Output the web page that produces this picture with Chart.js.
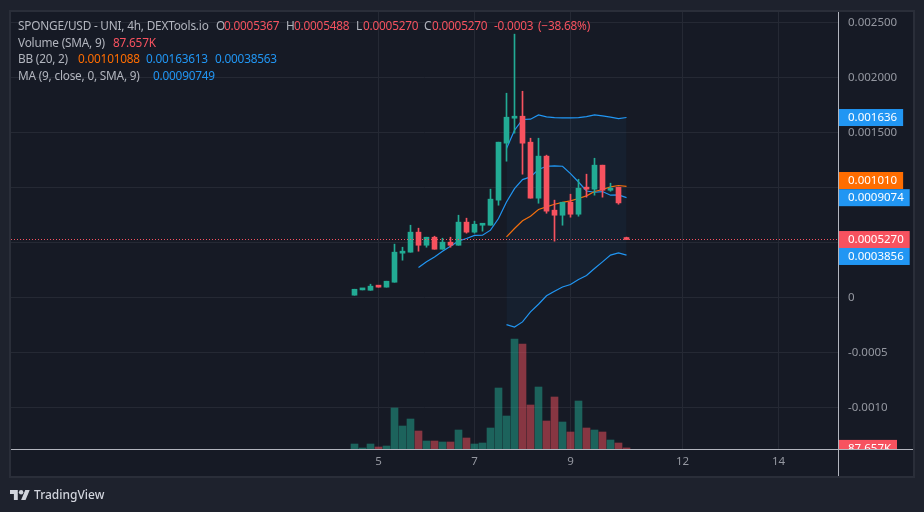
<!DOCTYPE html>
<html>
<head>
<meta charset="utf-8">
<title>SPONGE/USD</title>
<script src="https://cdn.jsdelivr.net/npm/chart.js@4"></script>
<style>
  html, body { margin: 0; padding: 0; width: 924px; height: 512px; overflow: hidden; background: #1e222d; }
  body { position: relative; font-family: "Noto Sans", sans-serif; }
  #panel { position: absolute; left: 9px; top: 10px; width: 902px; height: 464px; border: 2px solid #2a2e39; background: #161a25; }
  #priceChart { position: absolute; left: 0; top: 0; }
  .row { position: absolute; left: 18px; font-size: 11.8px; letter-spacing: -0.2px; line-height: 17px; color: #b2b5be; white-space: nowrap; }
  .row span { position: absolute; top: 0; }
  .red { color: #f7525f; }
  .orange { color: #ff6d00; }
  .blue { color: #2196f3; }
  #brand { position: absolute; left: 10px; top: 486px; display: flex; align-items: center; color: #d1d4dc; font-size: 12px; font-weight: 500; }
  #brand svg { margin-right: 4px; }
</style>
</head>
<body>
<div id="panel"></div>
<canvas id="priceChart" width="924" height="512"></canvas>

<div class="row" style="top:17px">SPONGE/USD - UNI, 4h, DEXTools.io
  <span style="left:198px">O</span><span class="red" style="left:206px">0.0005367</span>
  <span style="left:268px">H</span><span class="red" style="left:276px">0.0005488</span>
  <span style="left:338px">L</span><span class="red" style="left:345px">0.0005270</span>
  <span style="left:406px">C</span><span class="red" style="left:414px">0.0005270</span>
  <span class="red" style="left:476px">-0.0003</span>
  <span class="red" style="left:520px">(−38.68%)</span>
</div>
<div class="row" style="top:34px">Volume (SMA, 9)<span class="red" style="left:95px">87.657K</span></div>
<div class="row" style="top:50px">BB (20, 2)
  <span class="orange" style="left:60px">0.00101088</span>
  <span class="blue" style="left:128px">0.00163613</span>
  <span class="blue" style="left:197px">0.00038563</span>
</div>
<div class="row" style="top:67px">MA (9, close, 0, SMA, 9)<span class="blue" style="left:135px">0.00090749</span></div>

<div id="brand">
  <svg width="20" height="12" viewBox="0 3 36 20" fill="#d1d4dc"><path d="M14 22H7V11H0V4h14v18zM28 22h-8l7.5-18h8L28 22z"></path><circle cx="20" cy="8" r="4"></circle></svg>
  TradingView
</div>

<script>
// 4h candles, oldest first
const opens  = [0.000021, 0.000069, 0.000066, 0.000103, 0.000094, 0.000139, 0.000403, 0.000412, 0.000594, 0.000475, 0.000548, 0.000439, 0.000503, 0.000475, 0.000685, 0.000594, 0.000657, 0.000657, 0.000885, 0.001403, 0.001630, 0.001648, 0.001412, 0.000903, 0.001285, 0.000794, 0.000748, 0.000866, 0.000757, 0.000994, 0.000985, 0.001203, 0.000975, 0.001003, 0.0005367];
const highs  = [0.000075, 0.000075, 0.000121, 0.000103, 0.000148, 0.000485, 0.000457, 0.000657, 0.000630, 0.000548, 0.000557, 0.000539, 0.000548, 0.000748, 0.000721, 0.000694, 0.000666, 0.000985, 0.001412, 0.001857, 0.002394, 0.001875, 0.001448, 0.001448, 0.001294, 0.000885, 0.000866, 0.000939, 0.001075, 0.001121, 0.001266, 0.001203, 0.001039, 0.001003, 0.0005488];
const lows   = [0.000021, 0.000069, 0.000066, 0.000094, 0.000094, 0.000139, 0.000339, 0.000412, 0.000421, 0.000457, 0.000439, 0.000439, 0.000457, 0.000475, 0.000585, 0.000585, 0.000603, 0.000657, 0.000839, 0.001239, 0.001494, 0.001121, 0.000903, 0.000857, 0.000766, 0.000512, 0.000657, 0.000730, 0.000739, 0.000912, 0.000930, 0.000912, 0.000966, 0.000848, 0.000527];
const closes = [0.000075, 0.000075, 0.000103, 0.000094, 0.000148, 0.000412, 0.000421, 0.000594, 0.000475, 0.000548, 0.000439, 0.000503, 0.000475, 0.000685, 0.000594, 0.000666, 0.000666, 0.000894, 0.001412, 0.001639, 0.001648, 0.001403, 0.000903, 0.001285, 0.000785, 0.000748, 0.000866, 0.000757, 0.000994, 0.000985, 0.001203, 0.000975, 0.000994, 0.000860, 0.000527];
const volumes = [400000, 80000, 400000, 160000, 240000, 3280000, 1840000, 2400000, 1440000, 640000, 640000, 560000, 560000, 1520000, 880000, 400000, 480000, 1680000, 4880000, 2640000, 8800000, 8400000, 3520000, 4960000, 2240000, 4160000, 2160000, 1360000, 3840000, 1680000, 1520000, 1360000, 720000, 480000, 87657];

// indicators, the first value of each belongs to candle maStart / bbStart
const maStart = 8;
const maValues = [0.000272, 0.000324, 0.000369, 0.000421, 0.000466, 0.000514, 0.000536, 0.000564, 0.000566, 0.000612, 0.000718, 0.000868, 0.000990, 0.001072, 0.001096, 0.001163, 0.001193, 0.001196, 0.001193, 0.001126, 0.001050, 0.000968, 0.000957, 0.000963, 0.000930, 0.000933, 0.00090749];
const bbStart = 19;
const bbUpper = [0.001354, 0.001521, 0.001618, 0.001621, 0.001660, 0.001642, 0.001636, 0.001633, 0.001633, 0.001636, 0.001645, 0.001660, 0.001651, 0.001639, 0.001627, 0.00163613];
const bbBasis = [0.000551, 0.000627, 0.000697, 0.000739, 0.000800, 0.000824, 0.000848, 0.000864, 0.000878, 0.000900, 0.000924, 0.000964, 0.000982, 0.001006, 0.001018, 0.00101088];
const bbLower = [-0.000246, -0.000268, -0.000222, -0.000131, -0.000061, 0.000015, 0.000057, 0.000096, 0.000118, 0.000164, 0.000200, 0.000264, 0.000324, 0.000385, 0.000406, 0.00038563];

// axis ticks
const priceTicks = [0.0025, 0.002, 0.0015, 0.001, 0.0005, 0, -0.0005, -0.001];
const priceTickLabels = ['0.002500', '0.002000', '0.001500', '', '', '0', '-0.0005', '-0.0010'];
const dayTicks = [3, 15, 27, 41, 53];
const dayTickLabels = ['5', '7', '9', '12', '14'];

// last-value tags on the price axis
const tagValues = [0.00163613, 0.00101088, 0.00090749, 0.000527, 0.00038563];
const tagLabels = ['0.001636', '0.001010', '0.0009074', '0.0005270', '0.0003856'];
const lastVolumeLabel = '87.657K';

const GREEN = '#22ab94', RED = '#f7525f', BLUE = '#2196f3', ORANGE = '#ff6d00';
const GRID = '#252934', AXIS_LINE = '#b2b5be', AXIS_TEXT = '#9598a1';
const FONT = '"Noto Sans", sans-serif';

const candleColors = closes.map((c, i) => (c >= opens[i] ? GREEN : RED));
const volumeColors = closes.map((c, i) => (c >= opens[i] ? 'rgba(34,171,148,0.5)' : 'rgba(247,82,95,0.5)'));
const tagColors = [BLUE, ORANGE, BLUE, RED, BLUE];
const tagShift = [0, -5.8, 0, 0, 1.4]; // tags get pushed apart where they would overlap

function fromStart(values, start) {
    return values.map((v, i) => ({ x: start + i, y: v }));
}

function lineSet(label, values, start, color, order, extra) {
    return Object.assign({
        type: 'line',
        label: label,
        data: fromStart(values, start),
        borderColor: color,
        borderWidth: 1.2,
        pointRadius: 0,
        tension: 0,
        fill: false,
        order: order,
        yAxisID: 'y'
    }, extra);
}

// keep the pane edges where they are set, whatever the tick labels measure
function noScalePadding(s) {
    s.paddingTop = s.paddingBottom = s.paddingLeft = s.paddingRight = 0;
}

// axis lines, dotted last-price line and the tags go on top of the datasets
const overlay = {
    id: 'overlay',
    afterDraw(chart) {
        const c = chart.ctx, y = chart.scales.y, vol = chart.scales.volume, area = chart.chartArea;

        c.save();
        c.strokeStyle = RED;
        c.lineWidth = 1;
        c.setLineDash([1, 2]);
        c.beginPath();
        c.moveTo(area.left, Math.floor(y.getPixelForValue(closes[closes.length - 1])) + 0.5);
        c.lineTo(area.right, Math.floor(y.getPixelForValue(closes[closes.length - 1])) + 0.5);
        c.stroke();
        c.restore();

        c.font = '11.5px ' + FONT;
        c.textBaseline = 'middle';
        c.textAlign = 'left';

        // volume tag is cut off by the bottom of the pane
        c.save();
        c.beginPath();
        c.rect(area.right, area.top, 100, area.bottom - area.top);
        c.clip();
        const vy = vol.getPixelForValue(volumes[volumes.length - 1]);
        c.fillStyle = RED;
        c.fillRect(area.right, vy - 8, 59, 17);
        c.fillStyle = '#fff';
        c.fillText(lastVolumeLabel, area.right + 10, vy + 1);
        c.restore();

        tagValues.forEach((v, i) => {
            const py = y.getPixelForValue(v) + tagShift[i];
            c.fillStyle = tagColors[i];
            c.fillRect(area.right, py - 8.5, c.measureText(tagLabels[i]).width + 16, 17);
            c.fillStyle = '#fff';
            c.fillText(tagLabels[i], area.right + 10, py + 0.5);
        });

        c.fillStyle = AXIS_LINE;
        c.fillRect(area.right, 12, 1, 464);
        c.fillRect(area.left, area.bottom, 902, 1);
    }
};

new Chart(document.getElementById('priceChart'), {
    data: {
        datasets: [
            {
                type: 'bar',
                label: 'Volume',
                data: volumes.map((v, i) => ({ x: i, y: v })),
                backgroundColor: volumeColors,
                barThickness: 7,
                grouped: false,
                order: 6,
                yAxisID: 'volume'
            },
            lineSet('BB upper', bbUpper, bbStart, BLUE, 3),
            lineSet('BB lower', bbLower, bbStart, BLUE, 3, {
                fill: { target: '-1' },
                backgroundColor: 'rgba(33,150,243,0.05)'
            }),
            lineSet('BB basis', bbBasis, bbStart, ORANGE, 3),
            lineSet('MA', maValues, maStart, BLUE, 3),
            {
                type: 'bar',
                label: 'Wick',
                data: highs.map((h, i) => ({ x: i, y: [lows[i], h] })),
                backgroundColor: candleColors,
                barThickness: 1,
                grouped: false,
                order: 2,
                yAxisID: 'y'
            },
            {
                type: 'bar',
                label: 'Body',
                data: opens.map((o, i) => ({ x: i, y: [o, closes[i]] })),
                backgroundColor: candleColors,
                barThickness: 5,
                minBarLength: 2,
                grouped: false,
                order: 1,
                yAxisID: 'y'
            }
        ]
    },
    options: {
        responsive: false,
        animation: false,
        events: [],
        layout: { autoPadding: false, padding: { left: 11, top: 12, right: 0, bottom: 0 } },
        plugins: { legend: { display: false }, tooltip: { enabled: false } },
        scales: {
            x: {
                type: 'linear',
                offset: false,
                min: -42.9375,
                max: 60.4375,
                afterBuildTicks: s => { s.ticks = dayTicks.map(v => ({ value: v })); },
                afterFit: s => { s.height = 63; noScalePadding(s); },
                grid: { color: GRID, drawTicks: false, offset: false },
                border: { display: false },
                ticks: {
                    color: AXIS_TEXT,
                    font: { family: FONT, size: 11.5 },
                    padding: 6,
                    maxRotation: 0,
                    autoSkip: false,
                    callback: (v, i) => dayTickLabels[i]
                }
            },
            y: {
                type: 'linear',
                position: 'right',
                min: -0.00137727,
                max: 0.00259545,
                afterBuildTicks: s => { s.ticks = priceTicks.map(v => ({ value: v })); },
                afterFit: s => { s.width = 86; noScalePadding(s); },
                grid: { color: GRID, drawTicks: false },
                border: { display: false },
                ticks: {
                    color: AXIS_TEXT,
                    font: { family: FONT, size: 11.5 },
                    padding: 10,
                    autoSkip: false,
                    callback: (v, i) => priceTickLabels[i]
                }
            },
            // volume sits on the bottom edge of the same pane, about 80K per pixel
            volume: {
                type: 'linear',
                display: false,
                min: 0,
                max: 34960000
            }
        }
    },
    plugins: [overlay]
});
</script>
</body>
</html>
